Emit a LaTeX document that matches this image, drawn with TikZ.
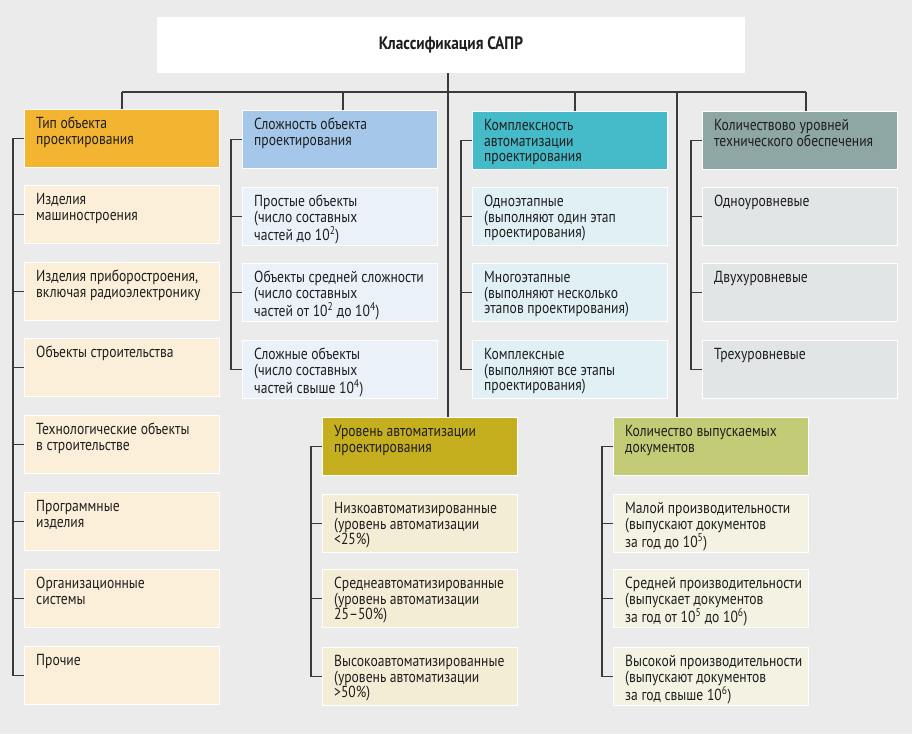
\documentclass[tikz,border=0pt]{standalone}
\usepackage{fontspec}
\setmainfont{PT Sans}[FakeStretch=0.85]
\definecolor{bgc}{HTML}{EBEBEB}
\definecolor{linec}{HTML}{3A3A3A}
\definecolor{textc}{HTML}{1E1E1E}
\definecolor{hA}{HTML}{F2B431}
\definecolor{iA}{HTML}{FCEFD9}
\definecolor{hB}{HTML}{A5C8EA}
\definecolor{iB}{HTML}{EAF1F9}
\definecolor{hC}{HTML}{45BAC9}
\definecolor{iC}{HTML}{E1F0F4}
\definecolor{hD}{HTML}{8EA6A4}
\definecolor{iD}{HTML}{E2E5E5}
\definecolor{hE}{HTML}{C6AF1F}
\definecolor{iE}{HTML}{F4EDD6}
\definecolor{hF}{HTML}{C3CB76}
\definecolor{iF}{HTML}{F4F2E2}
\tikzset{
  ln/.style={draw=linec, line width=1.4pt, line join=miter},
  bxs/.style={rectangle, draw=white, line width=0.9pt, minimum width=195pt, minimum height=58pt, anchor=north west, inner sep=0pt},
  txt/.style={anchor=north west, inner sep=0pt, align=left, text=textc, font=\fontsize{16}{15.4}\selectfont},
  ttl/.style={rectangle, fill=white, minimum width=588pt, minimum height=56pt, inner sep=0pt, text=textc, font=\bfseries\fontsize{18}{20}\selectfont}
}
\newcommand\mkbox[5]{%
  \node[bxs, fill=#2] (#1) at (#3,-#4) {};
  \node[txt] (#1t) at ([xshift=12pt,yshift=-7pt]#1.north west) {\rule{0pt}{12.5pt}#5};}
\begin{document}
\begin{tikzpicture}[x=1pt,y=1pt]
\useasboundingbox (0,0) rectangle (912,-734);
\fill[bgc] (0,0) rectangle (912,-734);
% title
\node[ttl] (title) at (451,-45) {Классификация САПР};
% column 1
\mkbox{h1}{hA}{24}{109}{Тип объекта\\проектирования}
\mkbox{a1}{iA}{24}{185}{Изделия\\машиностроения}
\mkbox{a2}{iA}{24}{262}{Изделия приборостроения,\\включая радиоэлектронику}
\mkbox{a3}{iA}{24}{338}{Объекты строительства}
\mkbox{a4}{iA}{24}{415}{Технологические объекты\\в строительстве}
\mkbox{a5}{iA}{24}{492}{Программные\\изделия}
\mkbox{a6}{iA}{24}{569}{Организационные\\системы}
\mkbox{a7}{iA}{24}{646}{Прочие}
% column 2
\mkbox{h2}{hB}{242}{110}{Сложность объекта\\проектирования}
\mkbox{b1}{iB}{242}{187}{Простые объекты\\(число составных\\частей до 10\textsuperscript{2})}
\mkbox{b2}{iB}{242}{263}{Объекты средней сложности\\(число составных\\частей от 10\textsuperscript{2} до 10\textsuperscript{4})}
\mkbox{b3}{iB}{242}{340}{Сложные объекты\\(число составных\\частей свыше 10\textsuperscript{4})}
% column 3
\mkbox{h3}{hC}{472}{111}{Комплексность\\автоматизации\\проектирования}
\mkbox{c1}{iC}{472}{187}{Одноэтапные\\(выполняют один этап\\проектирования)}
\mkbox{c2}{iC}{472}{263}{Многоэтапные\\(выполняют несколько\\этапов проектирования)}
\mkbox{c3}{iC}{472}{340}{Комплексные\\(выполняют все этапы\\проектирования)}
% column 4
\mkbox{h4}{hD}{702}{111}{Количествово уровней\\технического обеспечения}
\mkbox{d1}{iD}{702}{187}{Одноуровневые}
\mkbox{d2}{iD}{702}{263}{Двухуровневые}
\mkbox{d3}{iD}{702}{340}{Трехуровневые}
% column 5
\mkbox{h5}{hE}{322}{417}{Уровень автоматизации\\проектирования}
\mkbox{e1}{iE}{322}{494}{Низкоавтоматизированные\\(уровень автоматизации\\<25\%)}
\mkbox{e2}{iE}{322}{569}{Среднеавтоматизированные\\(уровень автоматизации\\25–50\%)}
\mkbox{e3}{iE}{322}{647}{Высокоавтоматизированные\\(уровень автоматизации\\>50\%)}
% column 6
\mkbox{h6}{hF}{613}{417}{Количество выпускаемых\\документов}
\mkbox{f1}{iF}{613}{494}{Малой производительности\\(выпускают документов\\за год до 10\textsuperscript{5})}
\mkbox{f2}{iF}{613}{569}{Средней производительности\\(выпускает документов\\за год от 10\textsuperscript{5} до 10\textsuperscript{6})}
\mkbox{f3}{iF}{613}{647}{Высокой производительности\\(выпускают документов\\за год свыше 10\textsuperscript{6})}
% bus and drops
\coordinate (busL) at (122,-92);
\coordinate (busR) at (806,-92);
\coordinate (k2) at (343,-92);
\coordinate (k3) at (575,-92);
\coordinate (k5) at (448,-92);
\coordinate (k6) at (677,-92);
\draw[ln] (busL) -- (busR);
\draw[ln] (busL) -- (busL |- h1.north);
\draw[ln] (k2) -- (k2 |- h2.north);
\draw[ln] (k3) -- (k3 |- h3.north);
\draw[ln] (busR) -- (busR |- h4.north);
\draw[ln] (title.south -| k5) -- (k5 |- h5.north);
\draw[ln] (k6) -- (k6 |- h6.north);
% spines
\draw[ln] (h1.west) -- ++(-11,0) |- (a7.west);
\foreach \n in {a1,a2,a3,a4,a5,a6} \draw[ln] (\n.west) -- ++(-11,0);
\draw[ln] (h2.west) -- ++(-11,0) |- (b3.west);
\foreach \n in {b1,b2} \draw[ln] (\n.west) -- ++(-11,0);
\draw[ln] (h3.west) -- ++(-11,0) |- (c3.west);
\foreach \n in {c1,c2} \draw[ln] (\n.west) -- ++(-11,0);
\draw[ln] (h4.west) -- ++(-11,0) |- (d3.west);
\foreach \n in {d1,d2} \draw[ln] (\n.west) -- ++(-11,0);
\draw[ln] (h5.west) -- ++(-11,0) |- (e3.west);
\foreach \n in {e1,e2} \draw[ln] (\n.west) -- ++(-11,0);
\draw[ln] (h6.west) -- ++(-11,0) |- (f3.west);
\foreach \n in {f1,f2} \draw[ln] (\n.west) -- ++(-11,0);
\end{tikzpicture}
\end{document}
